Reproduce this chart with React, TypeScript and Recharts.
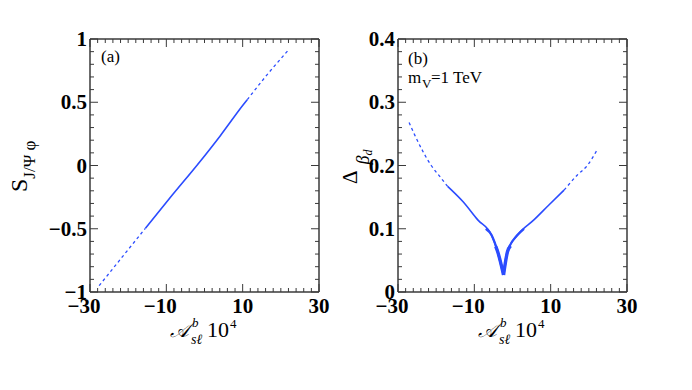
import React from 'react';
import { LineChart, Line, XAxis, YAxis } from 'recharts';

type Pt = { x: number; y: number };

// panel (a): S_{J/Psi phi} against A_sl^b x 10^4
const sLowDash: Pt[] = [
  { x: -27.6, y: -0.95 },
  { x: -21.6, y: -0.725 },
  { x: -15.5, y: -0.497 },
];
const sSolid: Pt[] = [
  { x: -15.5, y: -0.497 },
  { x: -8.5, y: -0.236 },
  { x: -1.8, y: 0.008 },
  { x: 4.2, y: 0.238 },
  { x: 10.2, y: 0.482 },
  { x: 11.2, y: 0.52 },
];
const sHighDash: Pt[] = [
  { x: 11.2, y: 0.52 },
  { x: 16.2, y: 0.71 },
  { x: 22.2, y: 0.92 },
];

// panel (b): Delta_{beta_d}, m_V = 1 TeV
const dLeftDash: Pt[] = [
  { x: -27.1, y: 0.268 },
  { x: -25.6, y: 0.248 },
  { x: -21.3, y: 0.2 },
  { x: -18.7, y: 0.18 },
  { x: -17, y: 0.167 },
];
const dLeftSolid: Pt[] = [
  { x: -17, y: 0.167 },
  { x: -13, y: 0.143 },
  { x: -9.1, y: 0.114 },
  { x: -5.5, y: 0.09 },
  { x: -3.9, y: 0.064 },
  { x: -2.35, y: 0.027 },
];
const dRightSolid: Pt[] = [
  { x: -2.35, y: 0.027 },
  { x: -1.3, y: 0.064 },
  { x: 1.3, y: 0.09 },
  { x: 5.6, y: 0.114 },
  { x: 9.6, y: 0.138 },
  { x: 13.5, y: 0.161 },
];
const dRightDash: Pt[] = [
  { x: 13.5, y: 0.161 },
  { x: 17, y: 0.185 },
  { x: 19.6, y: 0.2 },
  { x: 22.2, y: 0.225 },
];
// thicker band near the cusp
const dMidLeft: Pt[] = [
  { x: -7, y: 0.1 },
  { x: -5.5, y: 0.09 },
  { x: -3.9, y: 0.064 },
  { x: -2.35, y: 0.027 },
];
const dMidRight: Pt[] = [
  { x: -2.35, y: 0.027 },
  { x: -1.3, y: 0.064 },
  { x: 1.3, y: 0.09 },
  { x: 3, y: 0.1 },
];
const dCoreLeft: Pt[] = [
  { x: -4.4, y: 0.072 },
  { x: -3.9, y: 0.064 },
  { x: -2.35, y: 0.027 },
];
const dCoreRight: Pt[] = [
  { x: -2.35, y: 0.027 },
  { x: -1.3, y: 0.064 },
  { x: -0.5, y: 0.073 },
];

const xMajor = [-30, -10, 10, 30];
const sMajor = [-1, -0.5, 0, 0.5, 1];
const dMajor = [0, 0.1, 0.2, 0.3, 0.4];

const range = (lo: number, hi: number, step: number) => {
  const out: number[] = [];
  const n = Math.round((hi - lo) / step);
  for (let i = 0; i <= n; i++) out.push(+(lo + i * step).toFixed(6));
  return out;
};
const xTicks = range(-30, 30, 2);
const sTicks = range(-1, 1, 0.1);
const dTicks = range(0, 0.4, 0.02);

const BLUE = '#2b4cff';
const FRAME = '#3a3a3a';
const SERIF = '"Liberation Serif", "Times New Roman", serif';

const isMajor = (v: number, majors: number[]) => majors.some((m) => Math.abs(m - v) < 1e-9);
const fmt = (v: number) => (v < 0 ? '\u2212' + Math.abs(v) : String(v));

function XTick(props: any) {
  const { x, y, payload, pos } = props;
  const major = isMajor(payload.value, xMajor);
  const len = major ? 8 : 4;
  const dir = pos === 'top' ? 1 : -1;
  return (
    <g>
      <line x1={x} x2={x} y1={y} y2={y + dir * len} stroke={FRAME} strokeWidth={1} />
      {pos === 'bottom' && major && (
        <text x={x + 10.5} y={y + 21} textAnchor="end" fontFamily={SERIF} fontWeight="bold" fontSize={21} fill="#000">
          {fmt(payload.value)}
        </text>
      )}
    </g>
  );
}

function YTick(props: any) {
  const { x, y, payload, pos, majors } = props;
  const major = isMajor(payload.value, majors);
  const len = major ? 8 : 4;
  const dir = pos === 'left' ? 1 : -1;
  return (
    <g>
      <line x1={x} x2={x + dir * len} y1={y} y2={y} stroke={FRAME} strokeWidth={1} />
      {pos === 'left' && major && (
        <text x={x - 3} y={y + 7} textAnchor="end" fontFamily={SERIF} fontWeight="bold" fontSize={21} fill="#000">
          {fmt(payload.value)}
        </text>
      )}
    </g>
  );
}

type Series = { data: Pt[]; dash?: string; width: number };

function Panel(props: {
  left: number;
  marginLeft: number;
  marginRight: number;
  series: Series[];
  yTicks: number[];
  yMajor: number[];
  yDomain: [number, number];
}) {
  const { left, marginLeft, marginRight, series, yTicks, yMajor, yDomain } = props;
  const frame = { stroke: FRAME, strokeWidth: 1.5 };
  return (
    <div style={{ position: 'absolute', left, top: 0 }}>
      <LineChart width={346} height={390} margin={{ top: 38, right: marginRight, bottom: 97, left: marginLeft }}>
        <XAxis xAxisId="b" type="number" dataKey="x" domain={[-30, 30]} ticks={xTicks} interval={0} height={1}
          tickSize={0} tickMargin={0} axisLine={frame} tickLine={false} allowDataOverflow
          tick={(p: any) => <XTick {...p} pos="bottom" />} />
        <XAxis xAxisId="t" orientation="top" type="number" dataKey="x" domain={[-30, 30]} ticks={xTicks} interval={0}
          height={1} tickSize={0} tickMargin={0} axisLine={frame} tickLine={false} allowDataOverflow
          tick={(p: any) => <XTick {...p} pos="top" />} />
        <YAxis yAxisId="l" type="number" domain={yDomain} ticks={yTicks} interval={0} width={1}
          tickSize={0} tickMargin={0} axisLine={frame} tickLine={false} allowDataOverflow
          tick={(p: any) => <YTick {...p} pos="left" majors={yMajor} />} />
        <YAxis yAxisId="r" orientation="right" type="number" domain={yDomain} ticks={yTicks} interval={0} width={1}
          tickSize={0} tickMargin={0} axisLine={frame} tickLine={false} allowDataOverflow
          tick={(p: any) => <YTick {...p} pos="right" majors={yMajor} />} />
        {series.map((s, i) => (
          <Line key={i} xAxisId="b" yAxisId="l" data={s.data} dataKey="y" type="monotone" stroke={BLUE}
            strokeWidth={s.width} strokeDasharray={s.dash} dot={false} isAnimationActive={false} />
        ))}
      </LineChart>
    </div>
  );
}

function XTitle({ x }: { x: number }) {
  return (
    <g fontFamily={SERIF} fill="#000">
      <text x={x} y={337} fontSize={20} fontStyle="italic">{'\u{1D49C}'}</text>
      <text x={x + 22} y={327} fontSize={13} fontStyle="italic">b</text>
      <text x={x + 21} y={344} fontSize={14} fontStyle="italic">s{'\u2113'}</text>
      <text x={x + 37} y={337} fontSize={22}>10</text>
      <text x={x + 60} y={328} fontSize={13}>4</text>
    </g>
  );
}

export default function App() {
  return (
    <div style={{ position: 'absolute', left: 0, top: 0, width: 692, height: 390, background: '#fff' }}>
      <Panel left={0} marginLeft={89} marginRight={26} yTicks={sTicks} yMajor={sMajor} yDomain={[-1, 1]}
        series={[
          { data: sLowDash, dash: '3 3', width: 1.3 },
          { data: sSolid, width: 1.6 },
          { data: sHighDash, dash: '3 3', width: 1.3 },
        ]} />
      <Panel left={346} marginLeft={51} marginRight={64} yTicks={dTicks} yMajor={dMajor} yDomain={[0, 0.4]}
        series={[
          { data: dLeftDash, dash: '3 3', width: 1.3 },
          { data: dLeftSolid, width: 1.6 },
          { data: dRightSolid, width: 1.6 },
          { data: dRightDash, dash: '3 3', width: 1.3 },
          { data: dMidLeft, width: 2.3 },
          { data: dMidRight, width: 2.3 },
          { data: dCoreLeft, width: 3.4 },
          { data: dCoreRight, width: 3.4 },
        ]} />
      <svg width={692} height={390} style={{ position: 'absolute', left: 0, top: 0, pointerEvents: 'none' }}>
        <g fontFamily={SERIF} fill="#000">
          <text x={101} y={62} fontSize={17}>(a)</text>
          <text x={408} y={64} fontSize={17}>(b)</text>
          <text x={408} y={83} fontSize={17}>m</text>
          <text x={422} y={88} fontSize={13}>V</text>
          <text x={431} y={83} fontSize={17}>=1 TeV</text>
        </g>
        <XTitle x={170} />
        <XTitle x={478} />
        <g transform="translate(27,192) rotate(-90)" fontFamily={SERIF} fill="#000">
          <text x={0} y={0}>
            <tspan fontSize={24}>S</tspan>
            <tspan fontSize={17} dy={8}>J/{'\u03A8'} {'\u03C6'}</tspan>
          </text>
        </g>
        <g transform="translate(357,184) rotate(-90)" fontFamily={SERIF} fill="#000">
          <text x={0} y={0}>
            <tspan fontSize={21}>{'\u0394'}</tspan>
            <tspan fontSize={18} fontStyle="italic" dx={6} dy={12}>{'\u03B2'}</tspan>
            <tspan fontSize={12} fontStyle="italic" dy={3}>d</tspan>
          </text>
        </g>
      </svg>
    </div>
  );
}
